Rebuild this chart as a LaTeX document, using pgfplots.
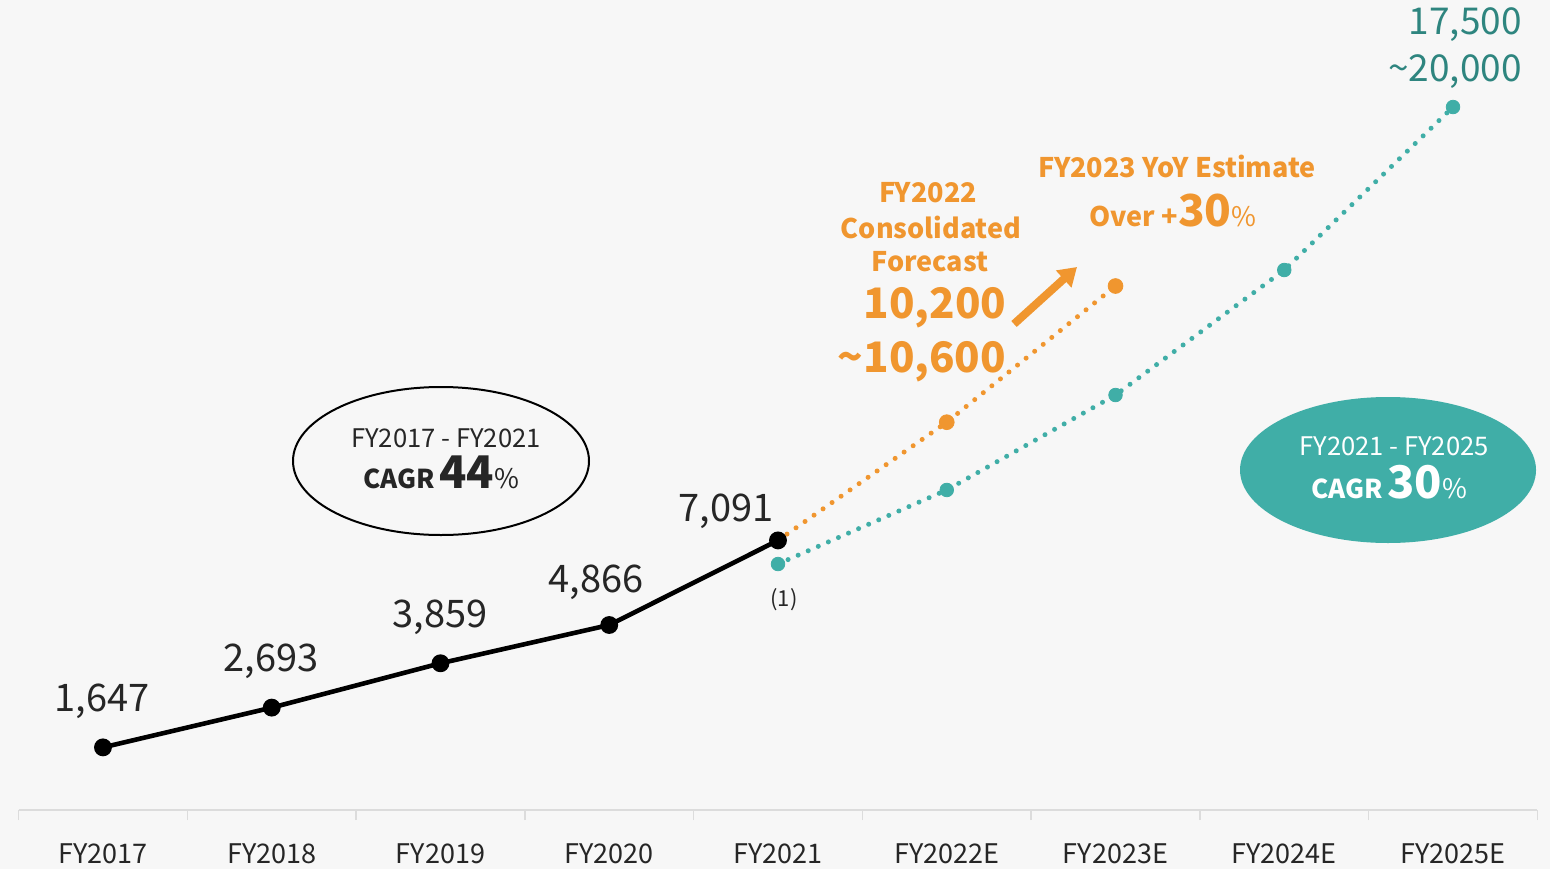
\documentclass[border=0pt]{standalone}
\usepackage{fontspec}
\setmainfont{Noto Sans CJK JP}
\usepackage{pgfplots}
\pgfplotsset{compat=1.18}
\usetikzlibrary{arrows.meta}
\definecolor{bg}{HTML}{F7F7F7}
\definecolor{axisgray}{HTML}{DCDCDC}
\definecolor{darktext}{HTML}{262626}
\definecolor{orng}{HTML}{F0962F}
\definecolor{teal}{HTML}{40AEA7}
\definecolor{tealtext}{HTML}{2E857F}
\newcommand{\fs}[1]{\fontsize{#1}{#1}\selectfont}
\begin{document}
\begin{tikzpicture}
\fill[bg] (0,0) rectangle (775pt,434.5pt);
\begin{axis}[
  at={(9.3pt,29.5pt)}, anchor=south west,
  scale only axis, width=759.4pt, height=380.2pt,
  xmin=-0.5, xmax=8.5, ymin=0, ymax=20000,
  axis y line=none, axis x line*=bottom,
  x axis line style={draw=axisgray, line width=1pt, -},
  xtick={0,...,8},
  xticklabels={FY2017,FY2018,FY2019,FY2020,FY2021,FY2022E,FY2023E,FY2024E,FY2025E},
  major tick length=0pt,
  minor xtick={-0.5,0.5,...,8.5},
  minor tick length=5pt, tick align=outside,
  every minor tick/.style={draw=axisgray, line width=0.8pt},
  xticklabel style={font=\fs{13.5}, text=darktext, anchor=base, yshift=-26.5pt},
  clip=false,
]
\addplot[orng, line width=2.5pt, dash pattern=on 0pt off 5.5pt, line cap=round]
  coordinates {(4,7091)(5,10200)(6,13782)};
\addplot[orng, only marks, mark=*, mark size=3.7pt]
  coordinates {(5,10200)(6,13782)};
\addplot[teal, line width=2.5pt, dash pattern=on 0pt off 5.5pt, line cap=round]
  coordinates {(4,6470)(5,8417)(6,10915)(7,14203)(8,18490)};
\addplot[teal, only marks, mark=*, mark size=3.4pt]
  coordinates {(4,6470)(5,8417)(6,10915)(7,14203)(8,18490)};
\addplot[black, line width=2.3pt, mark=*, mark size=3.3pt]
  coordinates {(0,1647)(1,2693)(2,3859)(3,4866)(4,7091)};
\end{axis}
\begin{scope}[x=0.5pt, y=-0.5pt, shift={(0,434.5pt)}]
  % data labels
  \node[anchor=base, font=\fs{19}, text=darktext, inner sep=0] at (102,711) {1,647};
  \node[anchor=base, font=\fs{19}, text=darktext, inner sep=0] at (271,671) {2,693};
  \node[anchor=base, font=\fs{19}, text=darktext, inner sep=0] at (440,627) {3,859};
  \node[anchor=base, font=\fs{19}, text=darktext, inner sep=0] at (596,592) {4,866};
  \node[anchor=base, font=\fs{19}, text=darktext, inner sep=0] at (726,521) {7,091};
  \node[anchor=base, font=\fs{11}, text=darktext, inner sep=0] at (784,606) {(1)};
  % black ellipse
  \draw[black, line width=1pt] (441,461) ellipse [x radius=148, y radius=74];
  \node[anchor=base, font=\fs{12.8}, text=darktext, inner sep=0] at (446,447) {FY2017 - FY2021};
  \node[anchor=base, text=darktext, inner sep=0] at (441,488) {{\fs{13}\bfseries CAGR} {\fs{22.5}\bfseries 44}{\fs{13.5}\%}};
  % teal ellipse
  \fill[teal] (1388,470) ellipse [x radius=148, y radius=73];
  \node[anchor=base, font=\fs{12.8}, text=white, inner sep=0] at (1394,455) {FY2021 - FY2025};
  \node[anchor=base, text=white, inner sep=0] at (1389,498) {{\fs{13}\bfseries CAGR} {\fs{22.5}\bfseries 30}{\fs{13.5}\%}};
  % orange annotations
  \node[anchor=base, font=\fs{13.5}\bfseries, text=orng, inner sep=0] at (928,203) {FY2022};
  \node[anchor=base, font=\fs{13.5}\bfseries, text=orng, inner sep=0] at (931,238) {Consolidated};
  \node[anchor=base, font=\fs{13.5}\bfseries, text=orng, inner sep=0] at (930,271) {Forecast};
  \node[anchor=base, font=\fs{21}\bfseries, text=orng, inner sep=0] at (935,318) {10,200};
  \node[anchor=base, font=\fs{21}\bfseries, text=orng, inner sep=0] at (922,372) {\textasciitilde10,600};
  \draw[orng, line width=4pt, -{Triangle[length=9pt,width=11pt]}] (1014,324) -- (1077,267);
  \node[anchor=base, font=\fs{13.5}\bfseries, text=orng, inner sep=0] at (1177,178) {FY2023 YoY Estimate};
  \node[anchor=base, text=orng, inner sep=0] at (1173,227) {{\fs{13.5}\bfseries Over +}{\fs{22}\bfseries 30}{\fs{13.5}\%}};
  % teal top labels
  \node[anchor=base east, font=\fs{18.5}, text=tealtext, inner sep=0] at (1522,35) {17,500};
  \node[anchor=base east, font=\fs{18.5}, text=tealtext, inner sep=0] at (1522,82) {\textasciitilde20,000};
\end{scope}
\pgfresetboundingbox
\path[use as bounding box] (0,0) rectangle (775pt,434.5pt);
\end{tikzpicture}
\end{document}
